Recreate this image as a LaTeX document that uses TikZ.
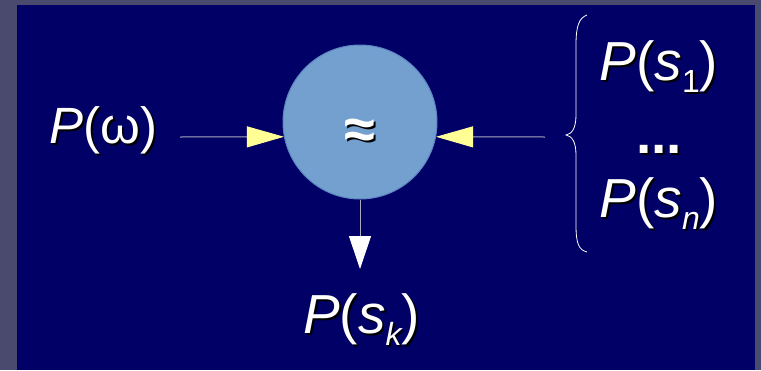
\documentclass[tikz,border=0pt]{standalone}
\usepackage{fontspec}
\setmainfont{Liberation Sans}
\usetikzlibrary{arrows.meta}
\definecolor{outerc}{RGB}{74,74,110}
\definecolor{navy}{RGB}{0,0,102}
\definecolor{circc}{RGB}{115,160,207}
\definecolor{circb}{RGB}{92,132,192}
\definecolor{yel}{RGB}{255,255,150}
\definecolor{linec}{RGB}{170,170,190}
\newcommand{\bigtxt}{\fontsize{55}{60}\selectfont}
\newcommand{\midtxt}{\fontsize{51}{60}\selectfont}
\newcommand{\subtxt}[1]{\raisebox{-12pt}{\fontsize{32}{32}\selectfont #1}}
\newcommand{\psub}[1]{{\itshape P}({\itshape s}\subtxt{#1})}
\newcommand{\shdw}[1]{\leavevmode\rlap{\kern2pt\raisebox{-2pt}{\color{black}#1}}#1}
\tikzset{
  lbl/.style={text=white, inner sep=0pt, anchor=base},
  conn/.style={draw=linec, line width=1pt},
}
\begin{document}
\begin{tikzpicture}[x=1pt,y=-1pt]
\useasboundingbox (0,0) rectangle (761,370);
\fill[outerc] (0,0) rectangle (761,370);
\fill[navy] (17,5) rectangle (755,370);
% circle
\node[circle, fill=circc, draw=circb, line width=1pt, minimum size=154pt, inner sep=0pt] (c) at (360,122) {};
% approx sign
\node[lbl, font=\fontsize{56}{56}\selectfont\bfseries] (apx) at (360,148) {\shdw{≈}};
% labels
\node[lbl, font=\midtxt] (pw) at (103.5,143) {\shdw{{\itshape P}(ω)}};
\node[lbl, font=\bigtxt] (p1) at (659,80) {\shdw{\psub{1}}};
\node[lbl, font=\bigtxt] (dots) at (659,153) {\shdw{\textbf{...}}};
\node[lbl, font=\bigtxt] (pn) at (659,217) {\shdw{\psub{\itshape n}}};
\node[lbl, font=\bigtxt] (pk) at (361.5,333) {\shdw{\psub{\itshape k}}};
% connectors
\coordinate (ls) at (180,137);
\coordinate (rs) at (545,137);
\coordinate (bt) at (360,269);
\draw[conn, -{Triangle[length=37pt,width=21pt,fill=yel,color=yel]}] (ls) -- (c.191);
\draw[conn, -{Triangle[length=37pt,width=21pt,fill=yel,color=yel]}] (rs) -- (c.-11);
\draw[conn, -{Triangle[length=33pt,width=22pt,fill=white,color=white]}] (c.south) -- (bt);
% brace
\draw[white, line width=0.8pt] (587,15) .. controls (579,18) and (576,26) .. (576,45) -- (576,115)
  .. controls (576,128) and (572,134) .. (566,135) .. controls (572,136) and (576,142) .. (576,155)
  -- (576,225) .. controls (576,244) and (579,250) .. (587,252);
\end{tikzpicture}
\end{document}
